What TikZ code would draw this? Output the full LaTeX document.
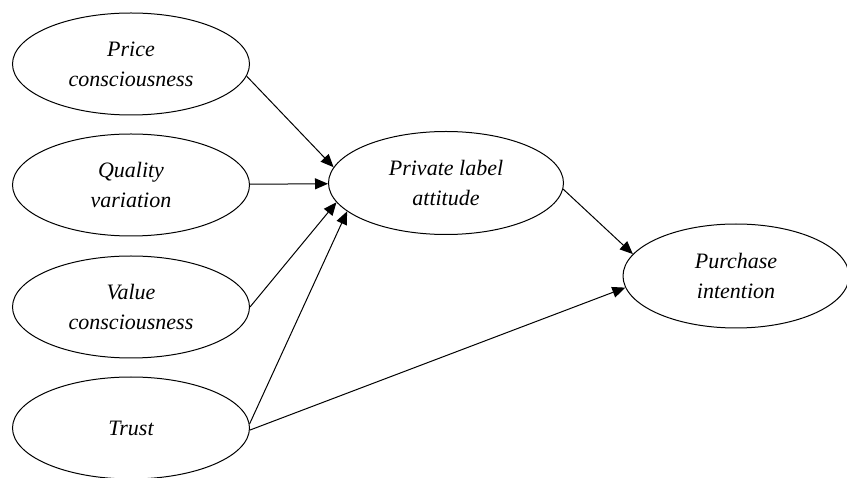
\documentclass[tikz,border=0pt]{standalone}
\usepackage{fontspec}
\setmainfont{Liberation Serif}
\usetikzlibrary{shapes.geometric,arrows.meta}

\begin{document}
\begin{tikzpicture}[x=1pt,y=-1pt,
    factor/.style={draw,ellipse,line width=1pt,minimum width=237pt,minimum height=102pt,
      inner sep=0pt,align=center,font=\fontsize{22}{30}\selectfont\itshape},
    path/.style={line width=1pt,-{Triangle[length=13pt,width=11pt]}}]
  \useasboundingbox (0,0) rectangle (847,478);
  \node [factor] (price) at (131,64) {Price\\consciousness};
  \node [factor] (quality) at (131,185) {Quality\\variation};
  \node [factor] (value) at (131,307) {Value\\consciousness};
  \node [factor] (trust) at (131,428) {Trust};
  \node [factor,minimum width=235pt,minimum height=103pt] (attitude) at (446,183) {Private label\\attitude};
  \node [factor,minimum width=226pt,minimum height=104pt] (intention) at (736,276) {Purchase\\intention};
  \draw [path] (price.-6) -- (attitude.172);
  \draw [path] (quality) -- (attitude);
  \draw [path] (value.east) -- (attitude.190);
  \draw [path] (trust.2) -- (attitude.196);
  \draw [path] (trust.-1) -- (intention.186);
  \draw [path] (attitude.-3) -- (intention.168);
\end{tikzpicture}
\end{document}
